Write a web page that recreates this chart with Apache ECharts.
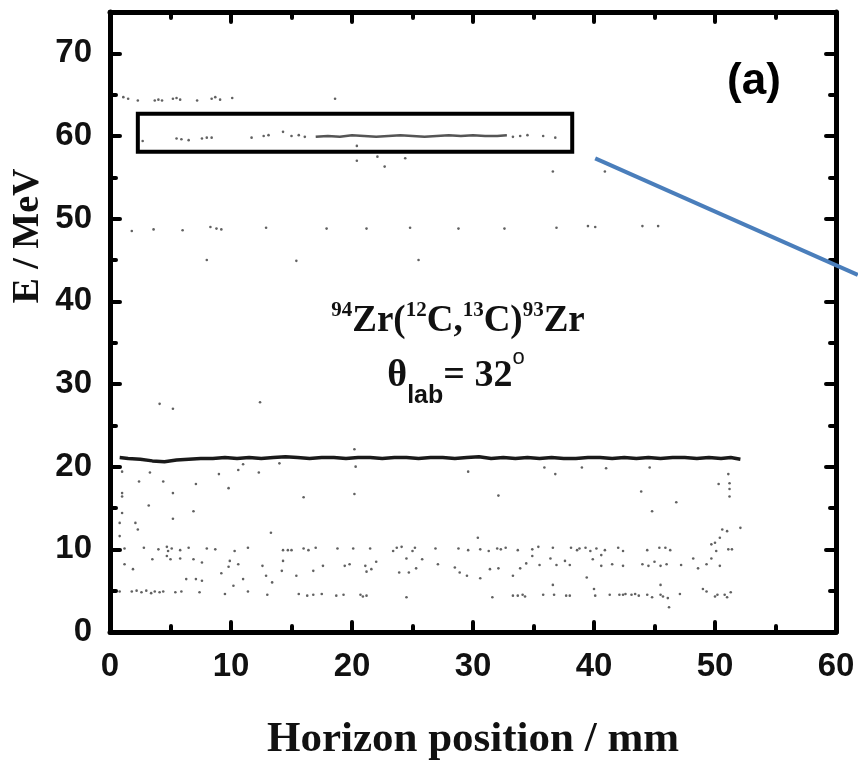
<!DOCTYPE html>
<html>
<head>
<meta charset="utf-8">
<script src="https://cdn.jsdelivr.net/npm/echarts@6/dist/echarts.min.js"></script>
<style>
  html, body { margin: 0; padding: 0; background: #fff; }
  #chart { width: 858px; height: 766px; }
</style>
</head>
<body>
<div id="chart"></div>
<script>
// Position spectrum of 94Zr(12C,13C)93Zr events: horizontal position (mm) vs energy (MeV)

const xTicks = [0, 10, 20, 30, 40, 50, 60];
const yTicks = [0, 10, 20, 30, 40, 50, 60, 70];

// dense locus near 21 MeV
const ridge21 = [
  [0.8,21.1],[1.5,21.0],[2.5,20.9],[3.5,20.7],[4.5,20.6],[5.5,20.8],[6.5,20.9],[7.5,21.0],
  [8.5,21.0],[9.5,21.1],[10.5,21.0],[11.5,21.1],[12.5,21.0],[13.5,21.1],[14.5,21.2],[15.5,21.1],
  [16.5,21.0],[17.5,21.1],[18.5,21.1],[19.5,21.0],[20.5,21.1],[21.5,21.1],[22.5,21.0],[23.5,21.1],
  [24.5,21.1],[25.5,21.0],[26.5,21.1],[27.5,21.1],[28.5,21.0],[29.5,21.1],[30.5,21.2],[31.5,21.0],
  [32.5,21.1],[33.5,21.0],[34.5,21.1],[35.5,21.0],[36.5,21.1],[37.5,21.0],[38.5,21.0],[39.5,21.1],
  [40.5,21.1],[41.5,21.0],[42.5,21.1],[43.5,21.0],[44.5,21.1],[45.5,21.0],[46.5,21.1],[47.5,21.1],
  [48.5,21.0],[49.5,21.1],[50.5,21.0],[51.3,21.1],[52.1,20.9]
];

// dense locus near 60 MeV
const band60 = [
  [17.0,59.9],[18.0,60.0],[19.0,59.9],[20.0,60.1],[21.0,60.0],[22.0,59.9],[23.0,60.0],[24.0,60.1],
  [25.0,60.0],[26.0,59.9],[27.0,60.0],[28.0,60.1],[29.0,60.0],[30.0,60.1],[31.0,60.0],[32.0,60.0],[32.8,60.1]
];

// sparse events along the 60 MeV group
const band60Sparse = [
  [2.7,59.4],[5.5,59.7],[5.9,59.6],[6.5,59.5],[7.6,59.7],[8.0,59.8],[8.4,59.8],[11.7,59.8],
  [12.7,60.0],[13.1,60.1],[14.3,60.5],[15.0,60.0],[15.6,60.1],[16.1,59.9],[33.3,59.9],[33.9,60.0],
  [34.5,60.1],[35.8,60.0],[36.8,59.8],[20.4,58.8]
];

const row65 = [
  [1.1,64.7],[1.5,64.5],[2.3,64.3],[3.7,64.3],[4.0,64.4],[4.3,64.3],[5.2,64.5],[5.5,64.6],
  [5.8,64.4],[7.2,64.3],[8.4,64.5],[8.7,64.7],[9.1,64.4],[10.1,64.6],[18.6,64.5]
];

const row49 = [
  [1.8,48.5],[3.6,48.7],[6.0,48.6],[8.3,49.0],[8.8,48.8],[9.2,48.7],[12.9,48.9],[17.9,48.8],
  [21.2,48.8],[24.8,48.9],[28.8,48.8],[32.6,48.8],[36.9,48.9],[39.5,49.1],[40.1,49.0],[44.0,49.1],[45.3,49.1]
];

const upperMisc = [
  [20.4,57.0],[22.1,57.5],[22.7,56.3],[24.4,57.3],[36.6,55.7],[40.9,55.7],
  [8.0,45.0],[15.4,44.9],[25.5,45.0],[4.1,27.6],[5.2,27.0],[12.4,27.8],[20.2,22.1]
];

// events between 12 and 20 MeV
const eventsMid = [
  [1.0,19.4],[3.3,19.3],[2.4,18.2],[4.4,18.2],[5.2,16.8],[7.1,17.9],[9.0,19.1],[9.8,17.4],
  [10.6,19.6],[11.0,20.3],[12.3,19.3],[14.0,20.4],[16.0,16.3],[20.3,20.0],[20.2,16.7],[29.6,19.4],
  [32.1,16.5],[1.0,16.8],[1.0,16.4],[3.2,15.3],[6.9,14.6],[5.2,13.7],[2.1,13.2],[2.3,12.4],
  [0.8,13.2],[1.0,14.4],[0.8,11.6],[13.3,12.0],[30.4,11.4],[35.9,19.9],[36.8,19.1],[39.0,19.9],
  [41.0,19.8],[44.6,19.9],[43.9,17.0],[44.8,14.6],[46.8,15.7],[51.1,19.1],[51.2,18.0],[51.2,17.3],
  [51.2,16.4],[50.3,17.9],[52.1,12.6],[50.6,12.4],[51.0,12.2],[50.4,11.4],[50.0,10.8],[49.7,10.6]
];

// events around 10 MeV
const row10 = [
  [1.2,10.1],[2.8,10.2],[4.0,10.0],[4.7,10.3],[4.8,9.8],[5.1,10.1],[5.8,9.9],[6.5,10.2],
  [8.0,10.1],[8.7,10.0],[10.3,9.8],[11.4,10.2],[14.3,9.9],[14.7,9.9],[15.0,9.9],[16.0,10.1],
  [16.4,9.9],[17.0,10.2],[18.8,10.1],[20.1,10.1],[21.5,10.1],[23.4,9.8],[23.7,10.2],[24.1,10.3],
  [25.0,9.8],[25.2,10.2],[26.9,10.1],[28.8,10.1],[29.6,9.9],[30.6,10.0],[31.3,9.8],[32.0,10.1],
  [32.3,10.0],[32.7,10.2],[33.7,9.9],[34.9,10.0],[35.4,10.3],[36.6,10.2],[38.1,10.2],[38.6,9.9],
  [38.8,10.1],[39.3,10.2],[39.7,9.8],[40.2,10.1],[40.9,9.9],[42.0,10.2],[42.4,9.8],[44.4,9.9],
  [45.4,10.2],[45.9,10.2],[46.3,9.9],[50.1,9.8],[51.1,10.0],[51.4,10.0]
];

// events between 5 and 10 MeV
const eventsLow = [
  [1.2,8.2],[1.9,7.6],[3.5,8.8],[4.7,9.2],[5.0,8.8],[5.8,8.9],[6.9,8.8],[7.6,8.4],
  [9.2,7.1],[9.8,7.9],[9.9,8.6],[10.6,8.2],[11.0,6.4],[10.2,5.6],[12.6,8.0],[12.9,6.8],
  [13.4,6.0],[14.2,7.4],[14.3,8.6],[15.4,6.8],[16.8,7.4],[17.6,8.0],[19.4,8.0],[19.8,8.2],
  [21.1,8.0],[21.2,7.3],[21.6,7.6],[22.0,8.5],[23.9,7.2],[24.7,7.2],[24.5,8.9],[25.3,7.7],
  [25.8,8.8],[27.1,8.2],[28.5,7.8],[28.9,7.2],[29.5,6.8],[30.6,6.5],[31.4,7.6],[6.3,6.4],
  [7.1,6.4],[7.6,6.2],[32.1,7.7],[33.3,6.8],[33.9,7.7],[34.4,8.3],[34.9,9.2],[35.5,8.1],
  [36.4,8.9],[36.9,8.1],[37.6,8.6],[38.0,8.1],[39.4,6.6],[39.9,8.8],[40.6,9.3],[40.6,8.0],
  [41.5,8.2],[42.4,8.0],[44.0,8.2],[44.5,8.0],[45.0,8.5],[45.5,8.0],[46.0,8.2],[47.2,8.1],
  [48.2,8.9],[48.6,7.7],[49.3,8.2],[50.4,8.0],[49.7,8.9],[36.6,5.7],[40.0,5.2],[45.5,5.7],[49.0,5.2]
];

// events around 5 MeV
const row5 = [
  [0.8,4.9],[1.8,4.9],[2.2,5.0],[2.6,4.8],[3.0,5.0],[3.4,4.7],[3.7,4.9],[4.1,4.8],
  [4.4,4.9],[5.4,4.8],[5.9,4.9],[7.4,4.8],[9.5,4.6],[11.4,4.9],[13.0,4.5],[15.6,4.6],
  [16.3,4.4],[16.8,4.5],[17.5,4.6],[18.7,4.4],[19.3,4.5],[20.7,4.5],[20.9,4.3],[21.2,4.4],
  [24.5,4.2],[31.6,4.2],[33.3,4.4],[33.7,4.4],[34.1,4.5],[34.3,4.3],[35.8,4.5],[36.7,4.5],
  [37.7,4.4],[38.0,4.4],[40.1,4.4],[41.3,4.5],[42.1,4.5],[42.4,4.5],[42.6,4.6],[43.1,4.5],
  [43.4,4.6],[43.7,4.4],[44.4,4.5],[44.8,4.2],[45.5,4.5],[45.7,4.3],[46.1,4.1],[46.2,3.0],
  [47.1,4.6],[49.3,4.9],[50.0,4.3],[50.2,4.5],[50.8,4.5],[51.0,4.2],[51.3,4.8]
];

// highlighted window around the 60 MeV group
const boxCorners = [[2.3, 62.7], [38.2, 58.1]];
// guide line pointing out of the frame
const guideFrom = [40.1, 57.3];
const guideTo = [61.8, 43.2];

const serif = "'Liberation Serif', 'Times New Roman', serif";
const sans = "'Liberation Sans', Arial, sans-serif";

const frameLine = { show: true, onZero: false, lineStyle: { color: '#000', width: 5, cap: 'round' } };
const majorTick = { show: true, inside: true, length: 10, lineStyle: { color: '#000', width: 4, cap: 'round' } };
const minorTick = { show: true, inside: true, length: 6, lineStyle: { color: '#000', width: 4, cap: 'round' } };
const noLine = { show: false, onZero: false };

function axis(base, extra) { return Object.assign({ type: 'value', splitLine: { show: false } }, base, extra); }

const xBase = { min: 0, max: 60 };
const yBase = { min: 0, max: 75 };

const chart = echarts.init(document.getElementById('chart'), null, { renderer: 'canvas' });

const dotStyle = { color: '#3a3a3a' };
const tickFont = { color: '#111', fontSize: 33, fontWeight: 'bold', fontFamily: sans };

chart.setOption({
  animation: false,
  backgroundColor: '#fff',
  grid: { left: 110, right: 22, top: 12, bottom: 129, containLabel: false },
  xAxis: [
    axis(xBase, {
      position: 'bottom', interval: 10, axisLine: frameLine, axisTick: majorTick,
      axisLabel: Object.assign({ margin: 18, formatter: v => xTicks.includes(v) ? String(v) : '' }, tickFont),
      name: 'Horizon position / mm', nameLocation: 'middle', nameGap: 86,
      nameTextStyle: { color: '#111', fontSize: 43, fontWeight: 'bold', fontFamily: serif }
    }),
    axis(xBase, { position: 'bottom', interval: 5, axisLine: noLine, axisTick: minorTick, axisLabel: { show: false } }),
    axis(xBase, { position: 'top', interval: 10, axisLine: frameLine, axisTick: majorTick, axisLabel: { show: false } }),
    axis(xBase, { position: 'top', interval: 5, axisLine: noLine, axisTick: minorTick, axisLabel: { show: false } })
  ],
  yAxis: [
    axis(yBase, {
      position: 'left', interval: 10, axisLine: frameLine, axisTick: majorTick,
      axisLabel: Object.assign({ margin: 18, formatter: v => yTicks.includes(v) ? String(v) : '' }, tickFont)
    }),
    axis(yBase, { position: 'left', interval: 5, axisLine: noLine, axisTick: minorTick, axisLabel: { show: false } }),
    axis(yBase, { position: 'right', interval: 10, axisLine: frameLine, axisTick: majorTick, axisLabel: { show: false } }),
    axis(yBase, { position: 'right', interval: 5, axisLine: noLine, axisTick: minorTick, axisLabel: { show: false } })
  ],
  series: [
    {
      name: 'locus21', type: 'line', data: ridge21, showSymbol: false, symbol: 'none',
      lineStyle: { color: '#1a1a1a', width: 3.5 }, z: 3,
      markArea: {
        silent: true,
        itemStyle: { color: 'rgba(0,0,0,0)', borderColor: '#000', borderWidth: 4 },
        data: [[{ coord: boxCorners[0] }, { coord: boxCorners[1] }]]
      }
    },
    {
      name: 'locus60', type: 'line', data: band60, showSymbol: false, symbol: 'none',
      lineStyle: { color: '#555', width: 2.5 }, z: 3
    },
    { name: 'sparse60', type: 'scatter', data: band60Sparse, symbol: 'circle', symbolSize: 2.6, itemStyle: dotStyle },
    { name: 'row65', type: 'scatter', data: row65, symbol: 'circle', symbolSize: 2.6, itemStyle: dotStyle },
    { name: 'row49', type: 'scatter', data: row49, symbol: 'circle', symbolSize: 2.6, itemStyle: dotStyle },
    { name: 'upper', type: 'scatter', data: upperMisc, symbol: 'circle', symbolSize: 2.6, itemStyle: dotStyle },
    { name: 'mid', type: 'scatter', data: eventsMid, symbol: 'circle', symbolSize: 2.6, itemStyle: dotStyle },
    { name: 'row10', type: 'scatter', data: row10, symbol: 'circle', symbolSize: 2.6, itemStyle: dotStyle },
    { name: 'low', type: 'scatter', data: eventsLow, symbol: 'circle', symbolSize: 2.6, itemStyle: dotStyle },
    { name: 'row5', type: 'scatter', data: row5, symbol: 'circle', symbolSize: 2.6, itemStyle: dotStyle }
  ]
});

const p1 = chart.convertToPixel({ xAxisIndex: 0, yAxisIndex: 0 }, guideFrom);
const p2 = chart.convertToPixel({ xAxisIndex: 0, yAxisIndex: 0 }, guideTo);

chart.setOption({
  graphic: [
    {
      type: 'line', z: 100,
      shape: { x1: p1[0], y1: p1[1], x2: p2[0], y2: p2[1] },
      style: { stroke: '#4a7ebb', lineWidth: 4 }
    },
    {
      type: 'text', z: 100, x: 754, y: 82,
      style: { text: '(a)', fill: '#000', font: "bold 44px " + sans, align: 'center', verticalAlign: 'middle' }
    },
    {
      type: 'text', z: 100, x: 28, y: 236, rotation: Math.PI / 2,
      style: { text: 'E / MeV', fill: '#111', font: "bold 38px " + serif, align: 'center', verticalAlign: 'middle' }
    },
    {
      type: 'text', z: 100, x: 458, y: 300,
      style: {
        text: '{s|94}{m|Zr(}{s|12}{m|C,}{s|13}{m|C)}{s|93}{m|Zr}',
        align: 'center', verticalAlign: 'top',
        rich: {
          s: { fontFamily: serif, fontWeight: 'bold', fontSize: 21, fill: '#111', verticalAlign: 'top', lineHeight: 40 },
          m: { fontFamily: serif, fontWeight: 'bold', fontSize: 37, fill: '#111', verticalAlign: 'bottom', lineHeight: 40, padding: [6, 0, 0, 0] }
        }
      }
    },
    {
      type: 'text', z: 100, x: 456, y: 347,
      style: {
        text: '{th|θ}{sub|lab}{eq|= 32}{deg|o}',
        align: 'center', verticalAlign: 'top',
        rich: {
          th: { fontFamily: serif, fontWeight: 'bold', fontSize: 38, fill: '#111', verticalAlign: 'top', lineHeight: 36, padding: [10, 0, 0, 0] },
          sub: { fontFamily: sans, fontWeight: 'bold', fontSize: 25, fill: '#111', verticalAlign: 'top', lineHeight: 24, padding: [37, 0, 0, 0] },
          eq: { fontFamily: serif, fontWeight: 'bold', fontSize: 38, fill: '#111', verticalAlign: 'top', lineHeight: 36, padding: [10, 0, 0, 0] },
          deg: { fontFamily: sans, fontSize: 22, fill: '#111', verticalAlign: 'top', lineHeight: 22 }
        }
      }
    }
  ]
});
</script>
</body>
</html>
